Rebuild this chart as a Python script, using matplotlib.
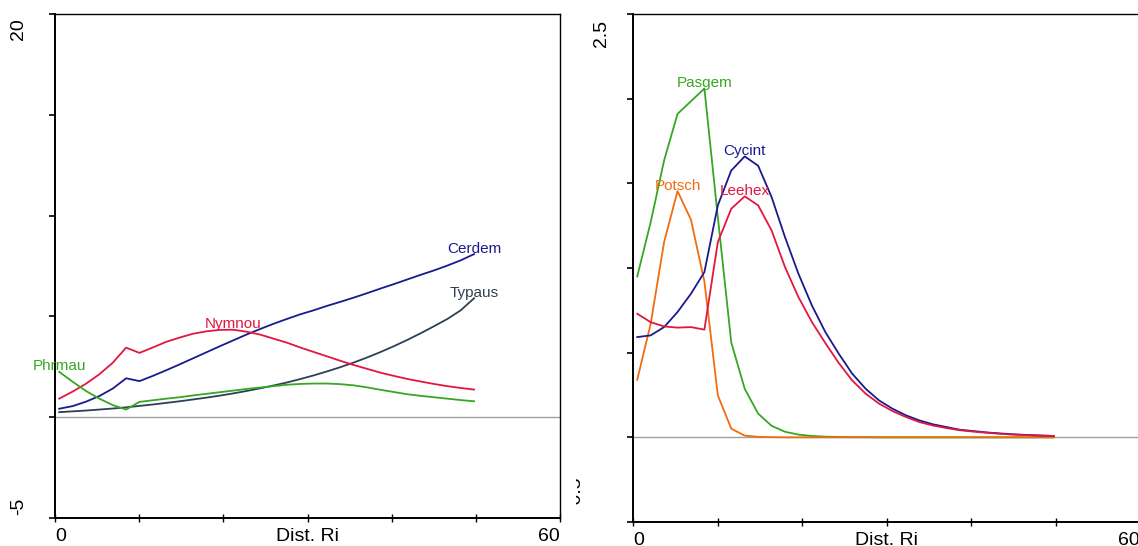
import matplotlib
matplotlib.use("Agg")
import matplotlib.pyplot as plt
from matplotlib.transforms import Bbox

plt.rcParams["font.family"] = ["Liberation Sans", "DejaVu Sans"]

# sampling positions along the distance gradient (shared by both panels)
dist = [0.5, 2.09, 3.68, 5.27, 6.86, 8.45, 10.04, 11.63, 13.22, 14.81, 16.4, 17.99,
        19.58, 21.17, 22.76, 24.35, 25.94, 27.53, 29.12, 30.71, 32.3, 33.89, 35.48, 37.07,
        38.66, 40.25, 41.84, 43.43, 45.02, 46.61, 48.2, 49.79]

# left panel responses
cerdem = [0.42, 0.55, 0.77, 1.05, 1.42, 1.93, 1.79, 2.05, 2.33, 2.62, 2.92, 3.22,
          3.52, 3.81, 4.10, 4.37, 4.63, 4.87, 5.10, 5.30, 5.52, 5.72, 5.93, 6.15,
          6.38, 6.60, 6.83, 7.06, 7.28, 7.52, 7.78, 8.09]
typaus = [0.25, 0.29, 0.33, 0.38, 0.43, 0.49, 0.56, 0.63, 0.71, 0.79, 0.88, 0.97,
          1.07, 1.18, 1.30, 1.43, 1.57, 1.72, 1.89, 2.07, 2.27, 2.48, 2.71, 2.96,
          3.23, 3.52, 3.83, 4.16, 4.51, 4.87, 5.30, 5.90]
nymnou = [0.92, 1.27, 1.66, 2.13, 2.70, 3.45, 3.19, 3.46, 3.74, 3.95, 4.14, 4.26,
          4.33, 4.34, 4.24, 4.10, 3.90, 3.70, 3.46, 3.24, 3.02, 2.80, 2.59, 2.40,
          2.21, 2.05, 1.90, 1.77, 1.65, 1.54, 1.45, 1.37]
phrmau = [2.25, 1.76, 1.30, 0.92, 0.60, 0.38, 0.76, 0.84, 0.92, 0.99, 1.08, 1.16,
          1.24, 1.32, 1.40, 1.47, 1.54, 1.61, 1.65, 1.67, 1.67, 1.64, 1.58, 1.48,
          1.36, 1.25, 1.14, 1.06, 0.99, 0.92, 0.85, 0.79]

# right panel responses
pasgem = [0.95, 1.27, 1.635, 1.91, 1.985, 2.06, 1.30, 0.56, 0.287, 0.14, 0.068, 0.033,
          0.016, 0.008, 0.004, 0.002, 0.001, 0.001, 0.0, 0.0, 0.0, 0.0, 0.0, 0.0,
          0.0, 0.0, 0.0, 0.0, 0.0, 0.0, 0.0, 0.0]
potsch = [0.34, 0.67, 1.153, 1.454, 1.285, 0.92, 0.248, 0.051, 0.01, 0.003, 0.001, 0.0,
          0.0, 0.0, 0.0, 0.0, 0.0, 0.0, 0.0, 0.0, 0.0, 0.0, 0.0, 0.0,
          0.0, 0.0, 0.0, 0.0, 0.0, 0.0, 0.0, 0.0]
cycint = [0.592, 0.602, 0.651, 0.74, 0.848, 0.976, 1.37, 1.576, 1.659, 1.604, 1.419, 1.182,
          0.966, 0.779, 0.622, 0.494, 0.376, 0.287, 0.218, 0.169, 0.13, 0.10, 0.077, 0.061,
          0.045, 0.037, 0.029, 0.023, 0.018, 0.014, 0.011, 0.008]
leehex = [0.73, 0.68, 0.655, 0.648, 0.651, 0.636, 1.153, 1.35, 1.423, 1.37, 1.222, 1.005,
          0.828, 0.681, 0.557, 0.439, 0.336, 0.258, 0.199, 0.155, 0.12, 0.09, 0.07, 0.055,
          0.042, 0.034, 0.027, 0.021, 0.016, 0.013, 0.010, 0.008]

NAVY = "#1a1a8f"
SLATE = "#2e4053"
RED = "#e3163f"
GREEN = "#35a822"
ORANGE = "#f26b10"

left_series = [("Cerdem", cerdem, NAVY), ("Typaus", typaus, SLATE),
               ("Nymnou", nymnou, RED), ("Phrmau", phrmau, GREEN)]
right_series = [("Pasgem", pasgem, GREEN), ("Potsch", potsch, ORANGE),
                ("Cycint", cycint, NAVY), ("Leehex", leehex, RED)]


def draw_panel(ax, series, ylim, top_label, ytick_step):
    ax.set_xlim(0, 60)
    ax.set_ylim(*ylim)
    ax.axhline(0, color="#a0a0a0", lw=1.0, zorder=1)
    for name, ys, col in series:
        ax.plot(dist, ys, color=col, lw=1.3, zorder=2)
        i = max(range(len(ys)), key=lambda k: ys[k])
        ax.annotate(name, (dist[i], ys[i]), xytext=(0, 4), textcoords="offset points",
                    ha="center", va="center", color=col, fontsize=11, zorder=3)

    n = round((ylim[1] - ylim[0]) / ytick_step)
    ax.set_yticks([ylim[0] + k * ytick_step for k in range(n + 1)])
    ax.set_xticks(range(0, 61, 10))
    ax.set_xticklabels([])
    ax.set_yticklabels([])
    ax.tick_params(axis="y", direction="out", length=4, width=1.2)
    ax.tick_params(axis="x", direction="inout", length=6, width=1.0)
    for side in ("left", "bottom"):
        ax.spines[side].set_linewidth(1.4)
    for side in ("top", "right"):
        ax.spines[side].set_linewidth(1.0)

    # only the extreme values are printed on each axis
    ax.annotate("0", (0, 0), xycoords="axes fraction", xytext=(0, -7),
                textcoords="offset points", ha="left", va="top", fontsize=14)
    ax.annotate("60", (1, 0), xycoords="axes fraction", xytext=(0, -7),
                textcoords="offset points", ha="right", va="top", fontsize=14)
    ax.annotate("Dist. Ri", (0.5, 0), xycoords="axes fraction", xytext=(0, -7),
                textcoords="offset points", ha="center", va="top", fontsize=14)
    return ax.annotate(top_label, (0, 1), xycoords="axes fraction", xytext=(-26, -3),
                       textcoords="offset points", ha="center", va="top",
                       rotation=90, fontsize=14)


fig = plt.figure(figsize=(11.38, 5.46), dpi=100)
ax1 = fig.add_axes([55 / 1138, 28 / 546, 505 / 1138, 504 / 546])
ax2 = fig.add_axes([633 / 1138, 24 / 546, 507 / 1138, 508 / 546])

draw_panel(ax1, left_series, (-5, 20), "20", 5)
ax1.annotate("-5", (0, 0), xycoords="axes fraction", xytext=(-26, 2),
             textcoords="offset points", ha="center", va="bottom",
             rotation=90, fontsize=14)

top2 = draw_panel(ax2, right_series, (-0.5, 2.5), "2.5", 0.5)
top2.set_position((-23, -4))

# the lower label of the right panel only shows a thin sliver
low = fig.text(584 / 1138, 36 / 546, "-0.5", rotation=90, ha="right", va="bottom",
               fontsize=14)
low.set_clip_box(Bbox.from_extents(576, 0, 600, 546))
low.set_clip_on(True)

fig.savefig("out.png", dpi=100)
